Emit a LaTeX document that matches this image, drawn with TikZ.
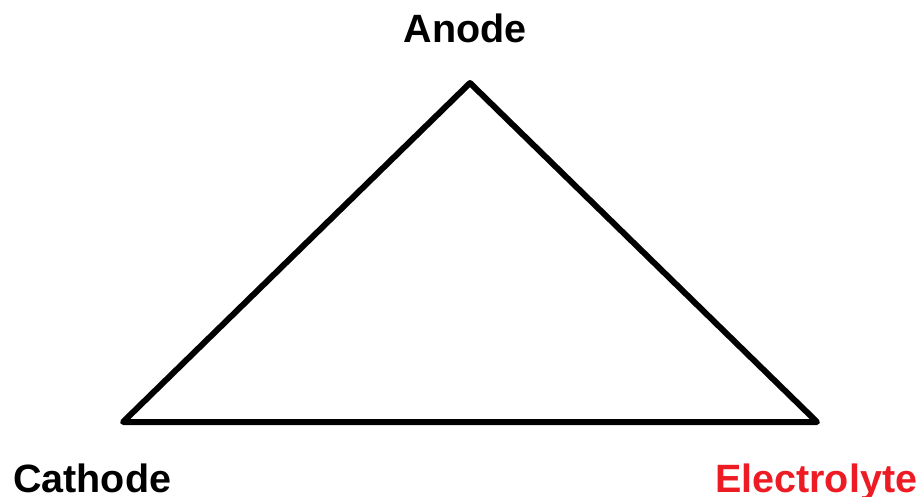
\documentclass[tikz,border=0pt]{standalone}
\usepackage{fontspec}
\setmainfont{Liberation Sans}
\definecolor{paintred}{RGB}{237,28,36}
\begin{document}
\begin{tikzpicture}[x=1pt,y=-1pt,
  lbl/.style={font=\fontsize{39.5}{42}\selectfont\bfseries, inner sep=0pt},
  edge/.style={line width=6pt, line join=round, line cap=round}]
\useasboundingbox (0,0) rectangle (921,497);
\coordinate (A) at (470,83);
\coordinate (C) at (123,422);
\coordinate (E) at (817,422);
\draw[edge] (A) -- (E) -- (C) -- cycle;
\node[lbl, anchor=base] (anode) at (465,43) {Anode};
\node[lbl, anchor=base west] (cathode) at (13,492) {Cathode};
\node[lbl, anchor=base west, text=paintred] (electrolyte) at (715,492) {Electrolyte};
\end{tikzpicture}
\end{document}
